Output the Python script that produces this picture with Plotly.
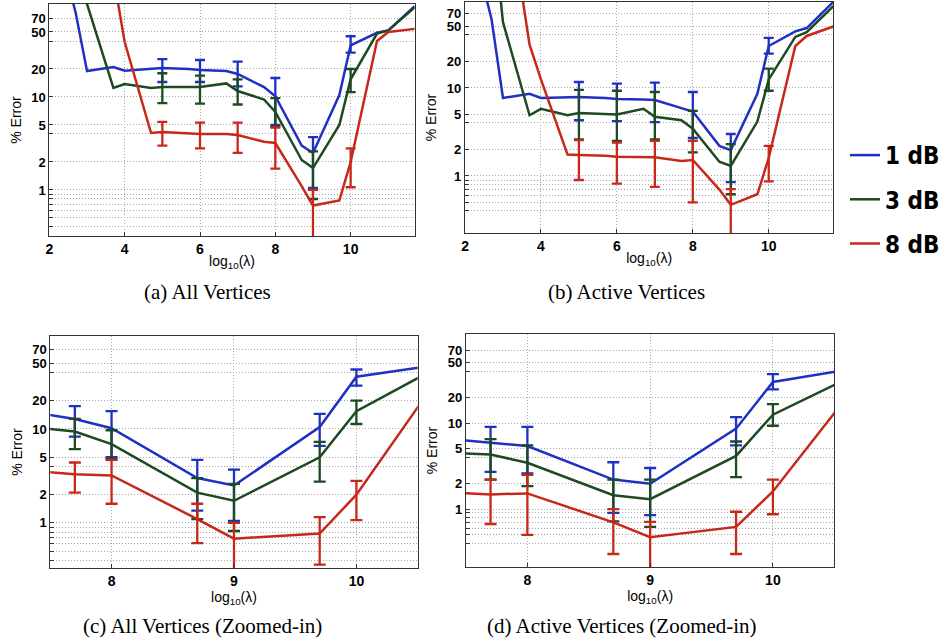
import plotly.graph_objects as go

# ---------------- data ----------------
# log10(lambda) sample points for the full sweeps (a), (b)
x_full = [2, 2.7, 3, 3.7, 4, 4.7, 5, 5.7, 6, 6.7, 7, 7.7, 8, 8.7, 9, 9.7, 10, 10.7, 11, 11.7]

# (a) All Vertices -- % error
all_1db = [1000, 80, 19, 21, 19.2, 20, 20.5, 20, 19.5, 19, 17.7, 12.8, 10.2, 3.0, 2.5, 10.5, 36, 49, 52, 95]
all_3db = [1000, 1000, 100, 12.5, 13.8, 12.5, 12.8, 12.8, 12.8, 14, 11.6, 9.4, 6.9, 2.1, 1.72, 5.0, 15.5, 48, 52, 92]
all_8db = [5000, 5000, 3000, 200, 39, 4.1, 4.2, 4.1, 4.0, 4.0, 3.9, 3.3, 3.2, 1.1, 0.68, 0.77, 2.0, 40, 50, 54]

# (b) Active Vertices -- % error
act_1db = [1000, 60, 7.7, 8.6, 7.7, 7.9, 7.9, 7.7, 7.5, 7.4, 7.3, 5.9, 5.4, 2.2, 1.97, 8.6, 30, 44, 48, 95]
act_3db = [1000, 1000, 56, 4.9, 5.8, 4.9, 5.2, 5.0, 5.0, 5.8, 4.7, 4.3, 3.45, 1.45, 1.3, 4.15, 12.5, 38, 43, 85]
act_8db = [5000, 5000, 3000, 31, 12.5, 1.75, 1.73, 1.7, 1.65, 1.64, 1.63, 1.48, 1.52, 0.7, 0.47, 0.62, 1.6, 30, 39, 50]

# error bar locations
x_err_full = [5, 6, 7, 8, 9, 10]
x_err_zoom = [7.7, 8, 8.7, 9, 9.7, 10]

# (a) error bars: upper / lower bounds
a_err = {
    "1 dB": ([25.5, 25, 24, 16, 3.7, 45], [14.5, 14.5, 13, 5.0, 1.05, 30]),
    "3 dB": ([18, 17, 15.5, 9.7, 2.6, 20], [8.6, 8.5, 8.3, 4.8, 0.8, 11.3]),
    "8 dB": ([5.4, 5.3, 5.3, 4.7, 1.0, 2.8], [3.0, 2.8, 2.5, 1.7, 0.3, 1.07]),
}
# (b) error bars
b_err = {
    "1 dB": ([11.7, 11.2, 11.5, 9.0, 3.0, 37], [4.3, 4.2, 4.1, 2.7, 0.85, 24.6]),
    "3 dB": ([9.5, 9.3, 9.0, 5.5, 2.3, 16.6], [2.6, 2.5, 2.6, 1.85, 0.62, 9.3]),
    "8 dB": ([2.55, 2.4, 2.5, 2.5, 0.71, 2.2], [0.9, 0.82, 0.75, 0.5, 0.2, 0.87]),
}
# (c) error bars
c_err = {
    "1 dB": ([17.5, 15.5, 4.7, 3.7, 14.5, 43], [8.3, 5.0, 1.35, 1.05, 6.6, 29]),
    "3 dB": ([12.8, 9.7, 3.0, 2.6, 7.3, 20], [6.1, 4.8, 1.1, 0.82, 2.75, 11.3]),
    "8 dB": ([4.4, 4.7, 1.6, 1.0, 1.15, 2.8], [2.1, 1.6, 0.61, 0.3, 0.36, 1.07]),
}
# (d) error bars
d_err = {
    "1 dB": ([9.0, 9.0, 3.5, 3.0, 11.7, 37], [2.7, 2.6, 0.9, 0.85, 5.5, 24.6]),
    "3 dB": ([6.5, 5.5, 2.2, 2.2, 6.1, 16.6], [2.2, 1.85, 0.72, 0.62, 2.35, 9.3]),
    "8 dB": ([2.2, 2.5, 1.0, 0.71, 0.93, 2.2], [0.67, 0.5, 0.3, 0.2, 0.3, 0.87]),
}

series_names = ["1 dB", "3 dB", "8 dB"]
y_tick_vals = [0.4, 0.5, 0.6, 0.7, 0.8, 0.9, 1, 2, 4, 5, 10, 20, 40, 50, 70]
y_tick_text = ["", "", "", "", "", "", "1", "2", "", "5", "10", "20", "", "50", "70"]
x_ticks_full = [2, 4, 6, 8, 10]
x_ticks_zoom = [8, 9, 10]
captions = ["(a) All Vertices", "(b) Active Vertices",
            "(c) All Vertices (Zoomed-in)", "(d) Active Vertices (Zoomed-in)"]

# ---------------- styling ----------------
colors = {"1 dB": "#1f30c4", "3 dB": "#1d4a20", "8 dB": "#c8281a"}
W, H = 945, 643
SANS = "Liberation Sans, Arial, Helvetica, sans-serif"
SERIF = "Liberation Serif, Times New Roman, serif"
GRID = "#a8a8a8"


def dx(l, r):
    return [l / W, r / W]


def dy(t, b):
    return [1 - b / H, 1 - t / H]


panels = [
    ("x", "y", (50, 420), (4, 236), [2, 11.7], [-0.495, 2.0], x_ticks_full,
     {"1 dB": all_1db, "3 dB": all_3db, "8 dB": all_8db}, a_err, x_err_full, 5, True),
    ("x2", "y2", (471, 844), (2, 233), [2, 11.7], [-0.648, 1.977], x_ticks_full,
     {"1 dB": act_1db, "3 dB": act_3db, "8 dB": act_8db}, b_err, x_err_full, 5, False),
    ("x3", "y3", (51, 423), (336, 568), [7.5, 10.5], [-0.48, 1.99], x_ticks_zoom,
     {"1 dB": all_1db, "3 dB": all_3db, "8 dB": all_8db}, c_err, x_err_zoom, 6, False),
    ("x4", "y4", (472, 845), (334, 567), [7.5, 10.5], [-0.674, 2.035], x_ticks_zoom,
     {"1 dB": act_1db, "3 dB": act_3db, "8 dB": act_8db}, d_err, x_err_zoom, 6, False),
]

fig = go.Figure()
layout = {}

for (xa, ya, xd, yd, xr, yr, xt, data, err, xerr, capw, show_leg) in panels:
    for name in series_names:
        ys = data[name]
        fig.add_trace(go.Scatter(
            x=x_full, y=ys, mode="lines", name=name, xaxis=xa, yaxis=ya,
            line=dict(color=colors[name], width=2.5),
            showlegend=show_leg, legendgroup=name,
        ))
        # error bars at selected points
        lookup = dict(zip(x_full, ys))
        centers = [lookup[v] for v in xerr]
        upper, lower = err[name]
        plus = [u - c for u, c in zip(upper, centers)]
        minus = [c - l for c, l in zip(centers, lower)]
        fig.add_trace(go.Scatter(
            x=xerr, y=centers, mode="markers", xaxis=xa, yaxis=ya,
            marker=dict(size=1, color=colors[name], opacity=0), showlegend=False, hoverinfo="skip",
            error_y=dict(type="data", symmetric=False, array=plus, arrayminus=minus,
                         color=colors[name], thickness=2.3, width=capw),
        ))
    xkey = "xaxis" + xa[1:]
    ykey = "yaxis" + ya[1:]
    layout[xkey] = dict(
        domain=dx(*xd), range=xr, anchor=ya, tickvals=xt, ticktext=[str(v) for v in xt],
        showgrid=True, gridcolor=GRID, griddash="1px,2px", gridwidth=1,
        showline=True, mirror=True, linecolor="#333333", linewidth=1.2,
        ticks="inside", ticklen=4, tickcolor="#333333", zeroline=False,
        tickfont=dict(family=SANS, size=14, color="black", weight="bold"),
        title=dict(text="log<sub>10</sub>(λ)", font=dict(family=SANS, size=14, color="black"), standoff=0),
        automargin=False,
    )
    layout[ykey] = dict(
        domain=dy(*yd), type="log", range=yr, anchor=xa,
        tickvals=y_tick_vals, ticktext=y_tick_text,
        showgrid=True, gridcolor=GRID, griddash="1px,2px", gridwidth=1,
        showline=True, mirror=True, linecolor="#333333", linewidth=1.2,
        ticks="inside", ticklen=4, tickcolor="#333333", zeroline=False,
        tickfont=dict(family=SANS, size=13, color="black", weight="bold"),
        title=dict(text="% Error", font=dict(family=SANS, size=14, color="black"), standoff=6),
        automargin=False,
    )

annotations = []
cap_pos = [(210, 292), (635, 292), (205, 626), (630, 626)]
for txt, (cx, cy) in zip(captions, cap_pos):
    annotations.append(dict(
        text=txt, x=cx / W, y=1 - cy / H, xref="paper", yref="paper",
        xanchor="center", yanchor="middle", showarrow=False,
        font=dict(family=SERIF, size=21, color="black"),
    ))

fig.update_layout(
    width=W, height=H, margin=dict(l=0, r=0, t=0, b=0),
    paper_bgcolor="white", plot_bgcolor="white",
    annotations=annotations,
    legend=dict(
        x=856 / W, y=1 - 133 / H, xanchor="left", yanchor="top",
        bgcolor="rgba(0,0,0,0)", borderwidth=0,
        font=dict(family="DejaVu Sans Condensed, Liberation Sans Narrow, Arial Narrow, sans-serif",
                  size=24, color="black", weight="bold"),
        tracegroupgap=10,
    ),
    **layout,
)

fig.write_html("out.html")
